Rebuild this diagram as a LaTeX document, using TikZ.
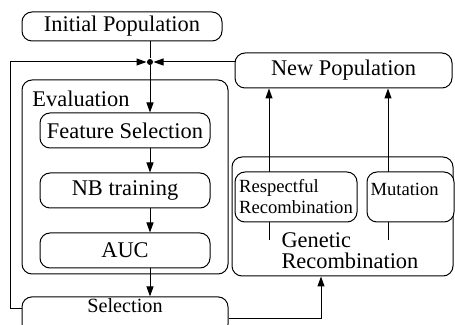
\documentclass[tikz,border=0pt]{standalone}
\usepackage{fontspec}
\setmainfont{Liberation Serif}
\usetikzlibrary{arrows.meta}
\newcommand{\mainsize}{\fontsize{11.2}{10.5}\selectfont}
\newcommand{\smallsize}{\fontsize{9.3}{10.5}\selectfont}
\begin{document}
\begin{tikzpicture}[x=0.5pt, y=0.5pt, line width=0.5pt,
  >={Triangle[length=5pt, width=3.5pt]},
  box/.style={draw, rounded corners=5pt, fill=white, inner sep=1pt, font=\mainsize},
  smallbox/.style={box, font=\smallsize, align=left}]
\useasboundingbox (0,0) rectangle (455,-325);
% left column
\node[box, minimum width=100pt, minimum height=14.5pt] (init) at (122,-26.5) {Initial Population};
\node[box, minimum width=103pt, minimum height=97pt] (eval) at (125,-177) {};
\node[anchor=base west, inner sep=0, font=\mainsize] (evallabel) at (32,-107) {Evaluation};
\begin{scope}[every node/.style={box, minimum width=85pt, minimum height=17.5pt}]
\node (feat) at (125,-130.5) {Feature Selection};
\node (nb) at (125,-190.5) {NB training};
\node (auc) at (125,-250.5) {AUC};
\end{scope}
\node[box, minimum width=103pt, minimum height=17.5pt, font=\fontsize{10.1}{12}\selectfont,
  text height=6.9pt, text depth=9.7pt] (sel) at (125,-315.5) {Selection};
\node[circle, fill, inner sep=0, minimum size=3pt] (junc) at (150,-62) {};
% right column
\node[box, minimum width=108.5pt, minimum height=17.5pt] (newpop) at (343.5,-70.5) {New Population};
\node[box, minimum width=110.5pt, minimum height=59.5pt] (gr) at (342.5,-216.5) {};
\node[anchor=north west, inner sep=0, align=left, font=\mainsize] (grlabel) at (281,-232) {Genetic\\Recombination};
\coordinate (rtail) at (269,-240);
\coordinate (mtail) at (388,-240);
\draw[->] (rtail) -- (rtail |- newpop.south);
\draw[->] (mtail) -- (mtail |- newpop.south);
\node[smallbox, minimum width=61pt, minimum height=25pt] (resp) at (296,-197) {Respectful\\Recombination};
\node[smallbox, minimum width=43.5pt, minimum height=25pt] (mut) at (410.5,-197) {};
\node[anchor=base west, inner sep=0, font=\smallsize] (mutlabel) at (370,-196) {Mutation};
% connections
\coordinate (loopL) at (10,-62);
\draw (init.south -| junc) -- (junc);
\draw[->] ([yshift=3.25pt]sel.west) -| (loopL) -- (junc);
\draw[->] (newpop.west |- junc) -- (junc);
\draw[->] (junc) -- (feat.north -| junc);
\draw[->] (feat.south -| junc) -- (nb.north -| junc);
\draw[->] (nb.south -| junc) -- (auc.north -| junc);
\draw[->] (auc.south -| junc) -- (sel.north -| junc);
\draw[->] ([yshift=-1.75pt]sel.east) -| ([xshift=-10.75pt]gr.south);
\end{tikzpicture}
\end{document}
